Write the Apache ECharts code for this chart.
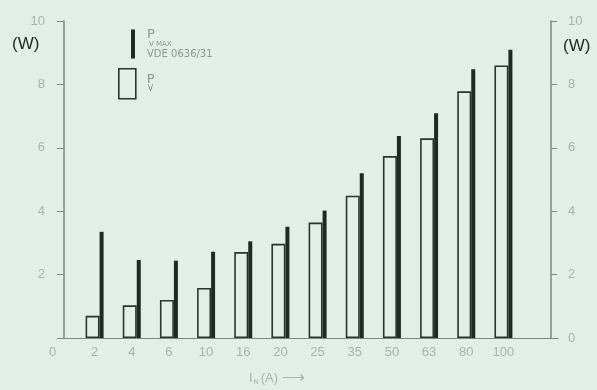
<!DOCTYPE html>
<html>
<head>
<meta charset="utf-8">
<script src="https://cdn.jsdelivr.net/npm/echarts@6/dist/echarts.min.js"></script>
<style>
  html, body { margin: 0; padding: 0; background: #e3eee6; }
  #chart { width: 597px; height: 390px; }
</style>
</head>
<body>
<div id="chart"></div>
<script>
// Rated current I_N (A) of each fuse size
const ratedCurrents = ['2', '4', '6', '10', '16', '20', '25', '35', '50', '63', '80', '100'];
// Measured power loss P_V (W)
const powerLoss = [0.70, 1.03, 1.20, 1.58, 2.71, 2.97, 3.64, 4.49, 5.74, 6.30, 7.78, 8.60];
// Maximum permitted power loss P_V MAX per VDE 0636/31 (W)
const powerLossMax = [3.35, 2.46, 2.44, 2.72, 3.05, 3.51, 4.02, 5.20, 6.37, 7.09, 8.48, 9.09];
// Power axis range and step (W)
const powerMin = 0, powerMax = 10, powerStep = 2;

const BG = '#e3eee6';
const INK = '#1c2a22';
const LABEL = '#a9b3ab';
const LEGEND_TXT = '#8e978f';
const AXIS = '#7e8780';
const FONT = '"Liberation Sans", Arial, sans-serif';
const WIDE = '"DejaVu Sans", sans-serif';

const chart = echarts.init(document.getElementById('chart'));

const tickLabel = { color: LABEL, fontSize: 13, fontFamily: FONT };

chart.setOption({
  backgroundColor: BG,
  animation: false,
  grid: [
    { left: 76, right: 75, top: 21, bottom: 52 },
    // full-width baseline under the bars
    { left: 58, right: 39, top: 21, bottom: 52 }
  ],
  legend: [
    {
      left: 126, top: 23,
      itemWidth: 4, itemHeight: 29, itemGap: 0,
      data: [{ name: 'max', icon: 'rect', itemStyle: { color: INK } }],
      formatter: function () {
        return '{p|P}\n{s|V MAX}\n{v|VDE 0636/31}';
      },
      textStyle: {
        color: LEGEND_TXT, fontFamily: WIDE,
        rich: {
          p: { fontSize: 13, lineHeight: 12, padding: [0, 0, 0, 7], color: LEGEND_TXT, fontFamily: WIDE },
          s: { fontSize: 7, lineHeight: 8, padding: [0, 0, 0, 9], color: LEGEND_TXT, fontFamily: WIDE },
          v: { fontSize: 10, lineHeight: 11, padding: [0, 0, 0, 7], color: LEGEND_TXT, fontFamily: WIDE }
        }
      },
      selectedMode: false
    },
    {
      left: 113, top: 63,
      itemWidth: 17, itemHeight: 30, itemGap: 0,
      data: [{ name: 'pv', icon: 'rect', itemStyle: { color: BG, borderColor: '#2a352d', borderWidth: 1.6 } }],
      formatter: function () {
        return '{p|P}\n{s|V}';
      },
      textStyle: {
        color: LEGEND_TXT, fontFamily: WIDE,
        rich: {
          p: { fontSize: 13, lineHeight: 11, padding: [0, 0, 0, 6], color: LEGEND_TXT, fontFamily: WIDE },
          s: { fontSize: 8, lineHeight: 8, padding: [0, 0, 0, 7], color: LEGEND_TXT, fontFamily: WIDE }
        }
      },
      selectedMode: false
    }
  ],
  xAxis: [
    {
      type: 'category',
      gridIndex: 0,
      data: ratedCurrents,
      axisLine: { show: false },
      axisTick: { show: false },
      axisLabel: Object.assign({ margin: 8 }, tickLabel)
    },
    {
      type: 'value',
      gridIndex: 1,
      min: 0, max: 1,
      axisLine: { show: true, lineStyle: { color: AXIS, width: 1.2 } },
      axisTick: { show: false },
      axisLabel: { show: false },
      splitLine: { show: false }
    }
  ],
  yAxis: [
    {
      type: 'value',
      gridIndex: 0,
      position: 'left',
      offset: 12,
      min: powerMin, max: powerMax, interval: powerStep,
      axisLine: { show: true, lineStyle: { color: AXIS, width: 1.5 } },
      axisTick: { show: true, inside: false, length: 7, lineStyle: { color: AXIS } },
      axisLabel: Object.assign({
        margin: 19,
        formatter: function (v) { return v === 0 ? '' : String(v); }
      }, tickLabel),
      splitLine: { show: false }
    },
    {
      type: 'value',
      gridIndex: 0,
      position: 'right',
      offset: 29,
      min: powerMin, max: powerMax, interval: powerStep,
      axisLine: { show: true, lineStyle: { color: AXIS, width: 1.5 } },
      axisTick: { show: true, inside: false, length: 6, lineStyle: { color: AXIS } },
      axisLabel: Object.assign({ margin: 17 }, tickLabel),
      splitLine: { show: false }
    },
    {
      type: 'value',
      gridIndex: 1,
      show: false,
      min: 0, max: 1
    }
  ],
  series: [
    {
      name: 'pv',
      type: 'bar',
      xAxisIndex: 0, yAxisIndex: 0,
      data: powerLoss,
      barWidth: 14,
      barGap: '0%',
      itemStyle: { color: BG, borderColor: '#2a352d', borderWidth: 1.6 },
      z: 2
    },
    {
      name: 'max',
      type: 'bar',
      xAxisIndex: 0, yAxisIndex: 0,
      data: powerLossMax,
      barWidth: 4,
      barGap: '0%',
      itemStyle: { color: INK },
      z: 3
    }
  ],
  graphic: [
    {
      type: 'text', left: 12, top: 36,
      style: { text: '(W)', fontSize: 17, fontFamily: FONT, fill: '#222a25' }
    },
    {
      type: 'text', left: 563, top: 38,
      style: { text: '(W)', fontSize: 17, fontFamily: FONT, fill: '#222a25' }
    },
    {
      type: 'text', left: 49, top: 346,
      style: { text: '0', fontSize: 13, fontFamily: FONT, fill: LABEL }
    },
    {
      type: 'text', left: 249, top: 370,
      style: {
        text: '{i|I}{n|N}{a|(A)}{r| ⟶}',
        fontFamily: FONT,
        rich: {
          i: { fontSize: 13, fill: LABEL, padding: [0, 1, 0, 0] },
          n: { fontSize: 7, fill: LABEL, padding: [8, 2, 0, 0] },
          a: { fontSize: 13, fill: LABEL },
          r: { fontSize: 16, fill: LABEL }
        }
      }
    }
  ]
});
</script>
</body>
</html>
